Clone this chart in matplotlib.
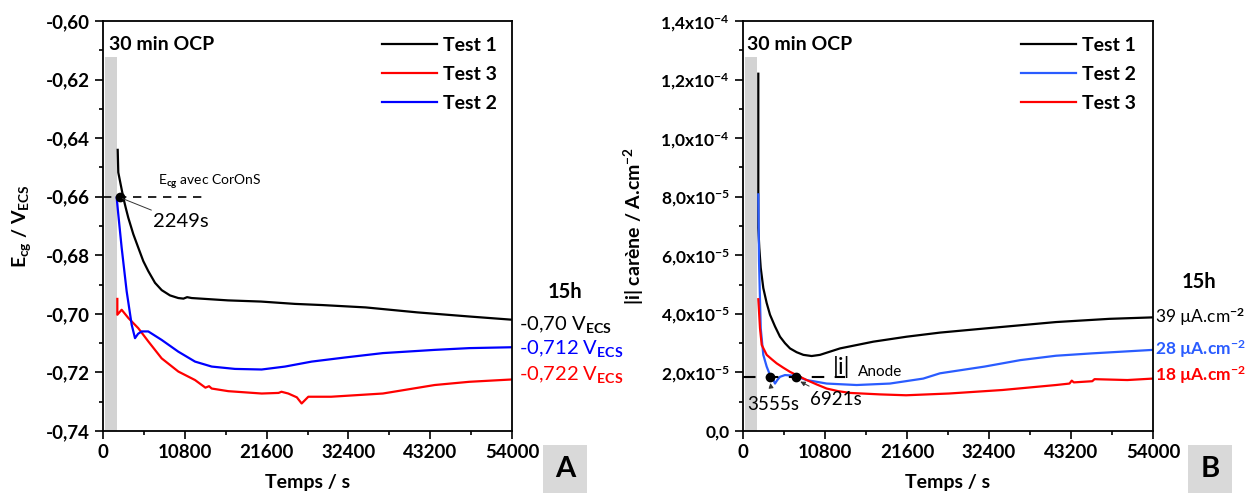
import numpy as np
import matplotlib
matplotlib.use('Agg')
import matplotlib.pyplot as plt
from matplotlib.patches import Rectangle
from matplotlib.ticker import MultipleLocator, FuncFormatter

plt.rcParams['font.family'] = ['Lato', 'DejaVu Sans']
plt.rcParams['font.weight'] = 'bold'
plt.rcParams['mathtext.fontset'] = 'custom'
plt.rcParams['mathtext.rm'] = 'Lato'
plt.rcParams['mathtext.bf'] = 'Lato:bold'
plt.rcParams['mathtext.it'] = 'Lato:italic'

# --- data ---
x_ticks = [0, 10800, 21600, 32400, 43200, 54000]
ocp_band = [200, 1850]   # 30 min OCP shading (s)

# panel A : free corrosion potential (V vs ECS)
a_t1_t = [1941, 2018, 2680, 2994, 3341, 4003, 4659, 5321, 5978, 6866, 7750, 8846,
          9937, 10623, 11105, 11709, 16504, 20860, 25350, 28970, 34680, 41515,
          48350, 54000]
a_t1_e = [-0.644, -0.6517, -0.6603, -0.6637, -0.6672, -0.6728, -0.6774, -0.682,
          -0.6854, -0.6894, -0.6919, -0.6937, -0.6946, -0.6948, -0.6943, -0.6946,
          -0.6954, -0.6958, -0.6966, -0.6970, -0.6978, -0.6995, -0.7009, -0.7020]
a_t3_t = [1893, 1893, 2463, 3341, 4659, 5978, 7745, 9947, 12149, 13520, 14003,
          14350, 16543, 20946, 23177, 23563, 24461, 25591, 26228, 27107, 30120,
          36950, 43790, 48350, 54000]
a_t3_e = [-0.6949, -0.7003, -0.6986, -0.7014, -0.7049, -0.7094, -0.7152, -0.7197,
          -0.7226, -0.7252, -0.7247, -0.7255, -0.7264, -0.7272, -0.7270, -0.7266,
          -0.7272, -0.7285, -0.7306, -0.7283, -0.7283, -0.7272, -0.7243, -0.7232,
          -0.7224]
a_t2_t = [1806, 2018, 2463, 3124, 3786, 4225, 4635, 5109, 5978, 7745, 9937, 12149,
          14350, 17421, 20946, 24027, 27552, 31945, 36950, 43790, 48350, 54000]
a_t2_e = [-0.6603, -0.666, -0.6774, -0.6923, -0.7037, -0.7083, -0.7068, -0.706,
          -0.706, -0.7089, -0.7129, -0.7163, -0.718, -0.7188, -0.719, -0.718,
          -0.7163, -0.7149, -0.7134, -0.7123, -0.7117, -0.7114]
a_end_labels = ['-0,70 V$_{\\mathrm{ECS}}$', '-0,712 V$_{\\mathrm{ECS}}$',
                '-0,722 V$_{\\mathrm{ECS}}$']
a_end_pos = [-0.7038, -0.7121, -0.7209]
a_ref_e = -0.66
a_ref_t = 2249

# panel B : hull current density (A/cm2)
b_t1_t = [2016, 2016, 2147, 2334, 2674, 3118, 3557, 4216, 4874, 5528, 6191, 7069,
          7947, 9040, 10142, 12776, 17156, 21555, 25945, 31820, 41220, 48270, 54000]
b_t1_i = [1.22e-4, 6.94e-5, 6.25e-5, 5.57e-5, 4.88e-5, 4.37e-5, 3.97e-5, 3.57e-5,
          3.22e-5, 3.0e-5, 2.82e-5, 2.69e-5, 2.60e-5, 2.56e-5, 2.60e-5, 2.82e-5,
          3.05e-5, 3.22e-5, 3.36e-5, 3.50e-5, 3.72e-5, 3.83e-5, 3.88e-5]
b_t2_t = [2016, 2109, 2334, 2674, 3118, 3557, 3996, 4216, 4519, 4874, 5528, 6625,
          8386, 11020, 14971, 19351, 23741, 25945, 31820, 36520, 41220, 45920, 54000]
b_t2_i = [8.08e-5, 5.8e-5, 3.51e-5, 2.60e-5, 2.2e-5, 1.91e-5, 1.74e-5, 1.62e-5,
          1.74e-5, 1.85e-5, 1.91e-5, 1.89e-5, 1.74e-5, 1.62e-5, 1.57e-5, 1.62e-5,
          1.79e-5, 1.97e-5, 2.2e-5, 2.42e-5, 2.57e-5, 2.65e-5, 2.77e-5]
b_t3_t = [2016, 2240, 2464, 3118, 3781, 4435, 5313, 6191, 7284, 8386, 9703, 11020,
          12551, 14093, 18043, 21480, 27120, 34170, 41220, 43000, 43300, 43570,
          46000, 46300, 50620, 54000]
b_t3_i = [4.5e-5, 3.51e-5, 2.94e-5, 2.60e-5, 2.45e-5, 2.31e-5, 2.16e-5, 2.02e-5,
          1.88e-5, 1.74e-5, 1.59e-5, 1.45e-5, 1.36e-5, 1.30e-5, 1.25e-5, 1.22e-5,
          1.28e-5, 1.40e-5, 1.57e-5, 1.62e-5, 1.72e-5, 1.66e-5, 1.70e-5, 1.77e-5,
          1.74e-5, 1.79e-5]
b_end_labels = ['39 µA.cm$^{\\mathrm{-2}}$', '28 µA.cm$^{\\mathbf{-2}}$',
                '18 µA.cm$^{\\mathbf{-2}}$']
b_end_pos = [3.9e-5, 2.8e-5, 1.9e-5]
b_ref_i = 1.83e-5
b_ref_t = [3555, 6921]

BLUE_A = '#0000ff'
BLUE_B = '#2a5cff'
RED = '#ff0000'
GREY = '#d3d3d3'
LEG = dict(loc='upper right', frameon=False, fontsize=14, handlelength=2.85,
           labelspacing=0.62, handletextpad=0.3, borderpad=0, borderaxespad=0)

W, H = 1258, 496
fig = plt.figure(figsize=(W / 100, H / 100), dpi=100)
axA = fig.add_axes([103 / W, (H - 431) / H, 409 / W, 410 / H])
axB = fig.add_axes([743 / W, (H - 431) / H, 410 / W, 410 / H])


def style_axes(ax, ylab_size):
    ax.set_xlim(0, 54000)
    ax.set_xticks(x_ticks)
    ax.xaxis.set_minor_locator(MultipleLocator(5400))
    ax.tick_params(which='both', direction='out', top=False, right=False, width=1.2)
    ax.tick_params(axis='x', labelsize=13.5)
    ax.tick_params(axis='y', labelsize=ylab_size)
    ax.tick_params(which='major', length=6)
    ax.tick_params(which='minor', length=3)
    for s in ax.spines.values():
        s.set_linewidth(1.3)
    ax.set_xlabel('Temps / s', fontsize=14, fontweight='bold', labelpad=9)


# ---------------- panel A ----------------
style_axes(axA, 13.5)
axA.set_ylim(-0.74, -0.60)
axA.yaxis.set_major_locator(MultipleLocator(0.02))
axA.yaxis.set_minor_locator(MultipleLocator(0.01))
axA.yaxis.set_major_formatter(FuncFormatter(lambda v, p: f'{v:.2f}'.replace('.', ',')))
axA.fill_between(ocp_band, -0.74, -0.6122, color=GREY, lw=0, zorder=0)
axA.plot(a_t1_t, a_t1_e, color='black', lw=1.6, label='Test 1')
axA.plot(a_t3_t, a_t3_e, color=RED, lw=1.6, label='Test 3')
axA.plot(a_t2_t, a_t2_e, color=BLUE_A, lw=1.6, label='Test 2')
axA.plot([0, 13860], [a_ref_e, a_ref_e], color='black', lw=1.2, ls=(0, (5, 4)))
axA.plot([a_ref_t], [a_ref_e], 'o', color='black', ms=6)
axA.annotate('2249s', xy=(a_ref_t + 300, a_ref_e - 0.0006), xytext=(6600, -0.6686),
             fontsize=14.5, fontweight='normal', va='center',
             arrowprops=dict(arrowstyle='-', lw=0.7, color='#333333',
                             shrinkA=1, shrinkB=0))
axA.text(7260, -0.655, 'E$_{\\mathrm{cg}}$ avec CorOnS', fontsize=10,
         fontweight='normal', va='center')
axA.text(800, -0.608, '30 min OCP', fontsize=14, va='center')
axA.set_ylabel('E$_{\\mathbf{cg}}$ / V$_{\\mathbf{ECS}}$', fontsize=14,
               fontweight='bold')
axA.yaxis.set_label_coords(-0.171, 0.5)
axA.legend(bbox_to_anchor=(0.963, 0.962), **LEG)
axA.text(61060, -0.6925, '15h', fontsize=14.5, ha='center', va='center',
         clip_on=False)
for lab, yy, col in zip(a_end_labels, a_end_pos, ['black', BLUE_A, RED]):
    axA.text(54900, yy, lab, fontsize=14.5, color=col, fontweight='normal',
             va='center', clip_on=False)

# ---------------- panel B ----------------
style_axes(axB, 12.5)
axB.set_ylim(0, 1.4e-4)
axB.yaxis.set_major_locator(MultipleLocator(2e-5))
axB.yaxis.set_minor_locator(MultipleLocator(1e-5))


def sci_fmt(v, pos):
    if v < 1e-12:
        return '0,0' if abs(v) < 1e-12 else ''
    e = int(np.floor(np.log10(v) + 1e-9))
    m = v / 10 ** e
    return f'{m:.1f}'.replace('.', ',') + 'x10$^{\\mathbf{' + str(e) + '}}$'


axB.yaxis.set_major_formatter(FuncFormatter(sci_fmt))
axB.fill_between(ocp_band, 0, 1.278e-4, color=GREY, lw=0, zorder=0)
axB.plot(b_t1_t, b_t1_i, color='black', lw=1.6, label='Test 1')
axB.plot(b_t2_t, b_t2_i, color=BLUE_B, lw=1.6, label='Test 2')
axB.plot(b_t3_t, b_t3_i, color=RED, lw=1.6, label='Test 3')
axB.plot([0, 13490], [b_ref_i, b_ref_i], color='black', lw=1.5, ls=(0, (6, 5)))
axB.plot(b_ref_t, [b_ref_i] * 2, 'o', color='black', ms=6)
axB.text(11900, 2.2e-5, '|i|', fontsize=17, fontweight='normal', va='center')
axB.text(15100, 2.03e-5, 'Anode', fontsize=11, fontweight='normal', va='center')
axB.annotate('3555s', xy=(b_ref_t[0], b_ref_i - 0.1e-5), xytext=(4017, 0.89e-5),
             fontsize=13.5, fontweight='normal', ha='center', va='center',
             arrowprops=dict(arrowstyle='-|>', lw=0.7, color='#333333',
                             mutation_scale=7, shrinkA=5, shrinkB=2))
axB.annotate('6921s', xy=(b_ref_t[1] + 300, b_ref_i - 0.1e-5),
             xytext=(12250, 1.06e-5), fontsize=13.5, fontweight='normal',
             ha='center', va='center',
             arrowprops=dict(arrowstyle='-|>', lw=0.7, color='#333333',
                             mutation_scale=7, shrinkA=4, shrinkB=2))
axB.text(527, 1.32e-4, '30 min OCP', fontsize=14, va='center')
axB.set_ylabel('|i| carène / A.cm$^{\\mathbf{-2}}$', fontsize=14,
               fontweight='bold')
axB.yaxis.set_label_coords(-0.236, 0.5)
axB.legend(bbox_to_anchor=(0.9585, 0.962), **LEG)
axB.text(60000, 5.09e-5, '15h', fontsize=14.5, ha='center', va='center',
         clip_on=False)
for lab, yy, col, fw in zip(b_end_labels, b_end_pos,
                            ['black', BLUE_B, RED], ['normal', 'bold', 'bold']):
    axB.text(54270, yy, lab, fontsize=12.5, color=col, fontweight=fw,
             va='center', clip_on=False)

# panel letters in grey boxes
for letter, x0 in [('A', 543), ('B', 1188)]:
    fig.add_artist(Rectangle((x0 / W, 3 / H), 44 / W, 48 / H,
                             transform=fig.transFigure, fc='#d9d9d9', ec='none'))
    fig.text((x0 + 22) / W, 27 / H, letter, fontsize=21, fontweight='bold',
             ha='center', va='center')

fig.savefig('out.png', dpi=100)
